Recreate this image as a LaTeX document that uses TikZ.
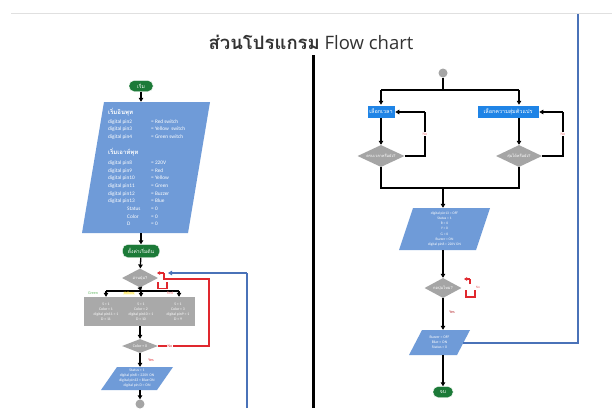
\documentclass[tikz,border=0pt]{standalone}
\usepackage{fontspec}
\setmainfont{Open Sans}
\newfontfamily\thai[Script=Thai]{Loma}
\newfontfamily\smallf{Carlito}
\usetikzlibrary{arrows.meta,shapes.geometric}
\definecolor{tgreen}{HTML}{1C7A38}
\definecolor{pblue}{HTML}{6F9BD8}
\definecolor{bblue}{HTML}{1F84E6}
\definecolor{dgray}{HTML}{A5A5A5}
\definecolor{ggray}{HTML}{A9A9A9}
\definecolor{lred}{HTML}{E0282E}
\definecolor{lblue}{HTML}{4A72B8}
\definecolor{ttl}{HTML}{333333}
\tikzset{
  arr/.style={-{Triangle[length=4pt,width=4.5pt]}, line width=1.3pt, draw=black},
  ln/.style={line width=1.3pt, draw=black},
  redln/.style={line width=1.3pt, draw=lred},
  blueln/.style={line width=1.3pt, draw=lblue},
  term/.style={rectangle, rounded corners=5pt, fill=tgreen, draw=white, line width=0.4pt,
    text=white, inner sep=0pt, font=\thai\fontsize{5}{6}\selectfont},
  dec/.style={diamond, aspect=2, fill=dgray, text=white, inner sep=0pt,
    font=\thai\fontsize{4}{5}\selectfont},
  bbox/.style={rectangle, fill=bblue, draw=white, line width=0.5pt, text=white,
    inner sep=0pt, font=\thai\fontsize{5.5}{6}\selectfont},
  anchorbox/.style={rectangle, inner sep=0pt, draw=none},
  ptxt/.style={text=white, align=center, inner sep=0pt, font=\smallf\fontsize{3.8}{5}\selectfont},
  lbl/.style={inner sep=0.5pt, font=\smallf\fontsize{4}{4}\selectfont},
  conn/.style={circle, fill=dgray, inner sep=0pt, minimum size=9pt}
}
\begin{document}
\begin{tikzpicture}[x=1pt,y=-1pt]
\useasboundingbox (0,0) rectangle (612,408);
\fill[white] (0,0) rectangle (612,408);
% slide top border
\draw[color=black!12, line width=1.5pt] (11,13.5) -- (612,13.5);
% title
\node[text=ttl, font=\fontsize{18.5}{20}\selectfont, inner sep=0pt] (title) at (311,42)
  {{\thai\bfseries ส่วนโปรแกรม} Flow chart};
% divider
\coordinate (divtop) at (313,55);
\coordinate (divbot) at (313,408);
\draw[line width=3pt] (divtop) -- (divbot);

%%%%%%%% LEFT FLOW %%%%%%%%
\node[term, minimum width=24pt, minimum height=11pt] (start) at (141,86) {เริ่ม};
% parallelogram 1
\fill[pblue] (104,102) -- (210,102) -- (188,233) -- (82,233) -- cycle;
\node[anchorbox, minimum width=106pt, minimum height=131pt] (p1) at (146,167.5) {};
\node[text=white, inner sep=0pt, anchor=north west, font=\smallf\fontsize{5.3}{7.7}\selectfont] (p1t) at (108,108) {%
\begin{tabular}{@{}p{43pt}@{}l@{}}
\multicolumn{2}{@{}l}{\thai\bfseries\fontsize{6}{7.7}\selectfont เริ่มอินพุท}\\[1pt]
digital pin2 & = Red switch\\
digital pin3 & = Yellow\ \ switch\\
digital pin4 & = Green switch\\
 & \\
\multicolumn{2}{@{}l}{\thai\bfseries\fontsize{6}{7.7}\selectfont เริ่มเอาท์พุท}\\[2pt]
digital pin8 & = 220V\\
digital pin9 & = Red\\
digital pin10 & = Yellow\\
digital pin11 & = Green\\
digital pin12 & = Buzzer\\
digital pin13 & = Blue\\
\hspace{19pt}Status & = 0\\
\hspace{19pt}Color & = 0\\
\hspace{19pt}D & = 0
\end{tabular}};
\draw[arr] (start) -- (start |- p1.north);

\node[term, minimum width=37pt, minimum height=13pt] (init) at (141,251) {ตั้งค่าเริ่มต้น};
\draw[arr] (p1.south -| init) -- (init);

\node[dec, minimum width=36pt, minimum height=19pt] (d1) at (140,278) {อ่านปุ่ม?};
\draw[arr] (init) -- (d1);

% split bar
\coordinate (bar) at (141,291);
\coordinate (barL) at (106,291);
\coordinate (barR) at (179,291);
\node[anchorbox, fill=ggray, minimum width=111pt, minimum height=29pt] (gbox) at (139.5,311.5) {};
\draw[arr] (d1.south) -- (bar);
\draw[ln] (barL) -- (barR);
\draw[arr] (barL) -- (barL |- gbox.north);
\draw[arr] (bar) -- (bar |- gbox.north);
\draw[arr] (barR) -- (barR |- gbox.north);
\node[lbl, text=green!55!black!60] (lgreen) at (93,293) {Green};
\node[lbl, text=yellow!70!orange, fill=yellow!15] (lyellow) at (129,293.5) {Yellow};
\node[lbl, text=lred!60] (lred) at (170,293) {Red};
\node[ptxt] (c1) at (106,311.5) {S = 1\\Color = 1\\digital pin11 = 1\\D = 11};
\node[ptxt] (c2) at (141,311.5) {S = 1\\Color = 2\\digital pin10 = 1\\D = 10};
\node[ptxt] (c3) at (178,311.5) {S = 1\\Color = 3\\digital pin9 = 1\\D = 9};

\node[dec, minimum width=36pt, minimum height=14pt] (d2) at (140,346) {\smallf Color = 0};
\draw[arr] (gbox.south -| d2) -- (d2);

% red loop back
\coordinate (r1) at (209,346);
\coordinate (r2) at (209,279);
\coordinate (r3) at (164,279);
\coordinate (r4) at (164,273);
\coordinate (r5) at (157,273);
\draw[redln] (d2.east) -- (r1) -- (r2) -- (r3) -- (r4);
\draw[redln, -{Triangle[length=3pt,width=3.5pt]}] (r4) -- (r5);
\draw[redln] (158,282) -- (158,288.5) -- (167,288.5) -- (167,282);
\node[lbl, text=lred, fill=white] (no1) at (170,346) {No};

% parallelogram 2
\fill[pblue] (117,367) -- (173,367) -- (157,390) -- (101,390) -- cycle;
\node[anchorbox, minimum width=56pt, minimum height=23pt] (p2) at (137,378.5) {};
\node[ptxt] (p2t) at (137,378.5) {Status = 1\\digital pin8 = 220V ON\\digital pin13 = Blue ON\\digital pin D = ON};
\draw[arr] (d2.south) -- (d2.south |- p2.north);
\node[lbl, text=lred] (yes1) at (151,360) {Yes};

\node[conn] (cl) at (140,404) {};
\draw[arr] (p2.south -| cl) -- (cl);

% blue return line
\coordinate (bl1) at (247,408);
\coordinate (bl2) at (247,273);
\coordinate (bl3) at (168,273);
\draw[blueln] (bl1) -- (bl2);
\draw[blueln, -{Triangle[length=4pt,width=4.5pt]}] (bl2) -- (bl3);

%%%%%%%% RIGHT FLOW %%%%%%%%
\node[conn] (cr) at (443,73) {};
\coordinate (rb) at (443,90);
\coordinate (rbL) at (381,90);
\coordinate (rbR) at (519,90);
\draw[ln] (cr) -- (rb);
\draw[ln] (rbL) -- (rbR);
\node[bbox, minimum width=28pt, minimum height=13pt] (bL) at (381,111.5) {เลือกเวลา};
\node[bbox, minimum width=62pt, minimum height=13pt] (bR) at (508,111.5) {เลือกความสุ่มตัวแปร};
\draw[arr] (rbL) -- (bL.north);
\draw[arr] (rbR) -- (rbR |- bR.north);

\node[dec, minimum width=47pt, minimum height=22pt] (dL) at (381,156) {ครบเวลาหรือยัง?};
\node[dec, minimum width=46pt, minimum height=22pt] (dR) at (519,156) {สุ่มได้หรือยัง?};
\draw[arr] (bL) -- (dL);
\draw[arr] (rbR |- bR.south) -- (dR);

% No loops
\coordinate (lL1) at (425,156);
\coordinate (lL2) at (425,112);
\draw[ln] (dL.east) -- (lL1) -- (lL2);
\draw[arr] (lL2) -- (bL.east |- lL2);
\node[lbl, text=lred!60, fill=white] (noL) at (425,134) {No};
\coordinate (lR1) at (563,156);
\coordinate (lR2) at (563,112);
\draw[ln] (dR.east) -- (lR1) -- (lR2);
\draw[arr] (lR2) -- (bR.east |- lR2);
\node[lbl, text=lred!60, fill=white] (noR) at (563,134) {No};

% join
\coordinate (jL) at (381,188);
\coordinate (jR) at (519,188);
\coordinate (jM) at (443,188);
\draw[ln] (dL.south) -- (jL) -- (jR) -- (dR.south);

% parallelogram 3
\fill[pblue] (413,208) -- (490,208) -- (476,250) -- (399,250) -- cycle;
\node[anchorbox, minimum width=77pt, minimum height=42pt] (p3) at (444.5,229) {};
\node[ptxt, font=\smallf\fontsize{3.6}{5.2}\selectfont] (p3t) at (444.5,229)
  {digital pin13 = OFF\\Status = 1\\R = 0\\Y = 0\\G = 0\\Buzzer = ON\\digital pin8 = 220V ON};
\draw[arr] (jM) -- (jM |- p3.north);

\node[dec, minimum width=37pt, minimum height=20pt] (d3) at (443,288) {กดปุ่มไหม?};
\draw[arr] (p3.south -| d3) -- (d3);
% small red no-loop
\draw[redln] (470,284) -- (470,279);
\draw[redln, -{Triangle[length=3pt,width=3.5pt]}] (470,279) -- (464,279);
\draw[redln] (466,290) -- (466,297) -- (475,297) -- (475,290);
\node[lbl, text=lred!70, font=\smallf\fontsize{3.5}{4}\selectfont] (no3) at (478,287) {No};
\node[lbl, text=lred!80!black] (yes3) at (452,312) {Yes};

% parallelogram 4
\fill[pblue] (422,330) -- (470,330) -- (457,355) -- (409,355) -- cycle;
\node[anchorbox, minimum width=48pt, minimum height=25pt] (p4) at (439.5,342.5) {};
\node[ptxt] (p4t) at (439.5,342) {Buzzer = OFF\\Blue = ON\\Status = 0};
\draw[arr] (d3.south) -- (d3.south |- p4.north);

\node[term, minimum width=20pt, minimum height=11pt] (end) at (443,392) {จบ};
\draw[arr] (p4.south -| end) -- (end);

% blue return line right
\coordinate (br1) at (463,343);
\coordinate (br2) at (578,343);
\coordinate (br3) at (578,14);
\draw[blueln] (br1) -- (br2) -- (br3);
\end{tikzpicture}
\end{document}
